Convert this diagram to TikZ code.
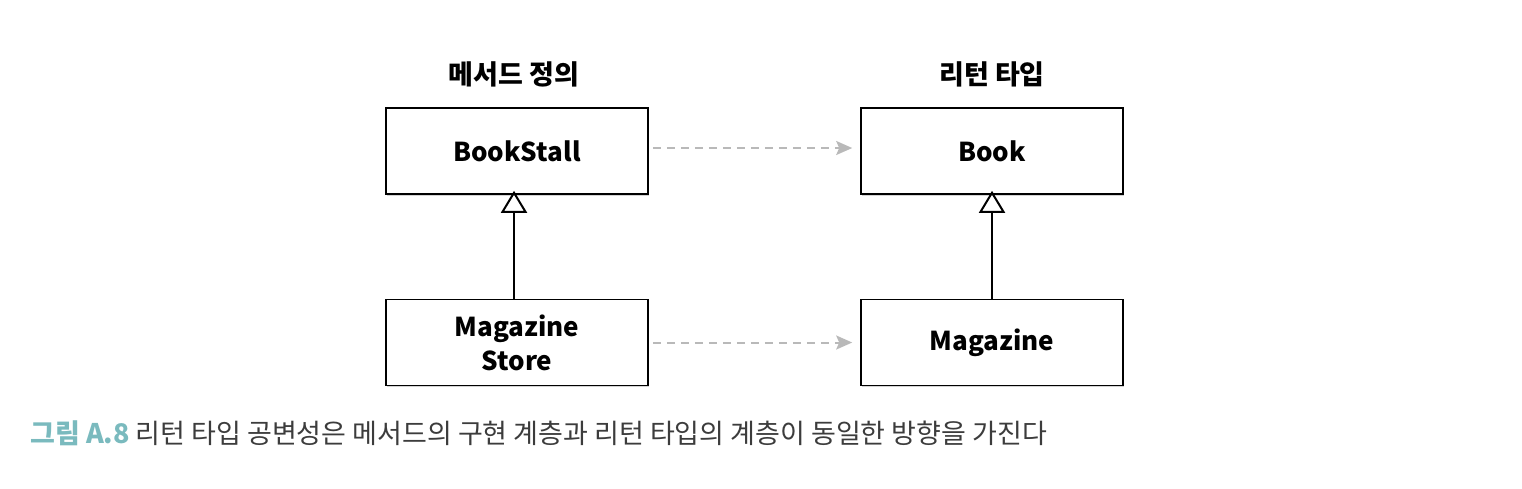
\documentclass[tikz,border=0pt]{standalone}
\usepackage{fontspec}
\setmainfont{Noto Sans CJK KR}
\usetikzlibrary{arrows.meta,shadows}
\definecolor{teal}{RGB}{122,186,190}
\definecolor{captxt}{RGB}{60,60,60}
\definecolor{dashgray}{RGB}{185,185,185}
\begin{document}
\begin{tikzpicture}[x=1pt,y=-1pt,
  cls/.style={draw=black,line width=1.6pt,fill=white,minimum width=262pt,minimum height=86pt,
    font=\fontsize{26}{30}\selectfont\bfseries,align=center,
    drop shadow={shadow xshift=1pt,shadow yshift=-1.5pt,opacity=0.35}},
  hdr/.style={font=\fontsize{27}{30}\selectfont\bfseries},
  dep/.style={dashgray,line width=2pt,dash pattern=on 8pt off 6pt,-{Stealth[length=16pt,width=14pt,inset=3pt]}},
  inh/.style={black,line width=2pt,-{Triangle[open,length=22pt,width=26pt,line width=2pt]}}]
\useasboundingbox (0,0) rectangle (1522,488);
\node[cls] (bs) at (517,151) {BookStall};
\node[cls] (bk) at (992,151) {Book};
\node[cls] (ms) at (517,342.5) {Magazine\\[4pt]Store};
\node[cls] (mg) at (992,342.5) {Magazine};
\node[hdr] (h1) at (514,74) {메서드 정의};
\node[hdr] (h2) at (992,74) {리턴 타입};
\draw[dep] ([xshift=4pt,yshift=3pt]bs.east) -- ([xshift=-8pt,yshift=3pt]bk.west);
\draw[dep] ([xshift=4pt]ms.east) -- ([xshift=-8pt]mg.west);
\draw[inh] (ms.north -| 514,0) -- ([yshift=4pt]bs.south -| 514,0);
\draw[inh] (mg.north) -- ([yshift=4pt]bk.south);
\node[anchor=west,font=\fontsize{27}{30}\selectfont,text=captxt,inner sep=0pt] (cap) at (30,433)
  {\textcolor{teal}{\bfseries 그림 A.8} 리턴 타입 공변성은 메서드의 구현 계층과 리턴 타입의 계층이 동일한 방향을 가진다};
\end{tikzpicture}
\end{document}
